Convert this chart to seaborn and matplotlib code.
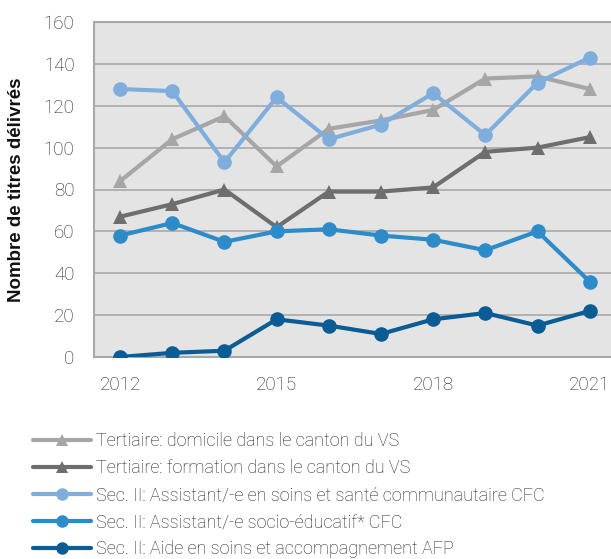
import matplotlib
matplotlib.use("Agg")
import matplotlib.pyplot as plt
import seaborn as sns
import pandas as pd

years = [2012, 2013, 2014, 2015, 2016, 2017, 2018, 2019, 2020, 2021]
series_names = [
    "Tertiaire: domicile dans le canton du VS",
    "Tertiaire: formation dans le canton du VS",
    "Sec. II: Assistant/-e en soins et santé communautaire CFC",
    "Sec. II: Assistant/-e socio-éducatif* CFC",
    "Sec. II: Aide en soins et accompagnement AFP",
]
tert_domicile = [84, 104, 115, 91, 109, 113, 118, 133, 134, 128]
tert_formation = [67, 73, 80, 62, 79, 79, 81, 98, 100, 105]
assc = [128, 127, 93, 124, 104, 111, 126, 106, 131, 143]
ase = [58, 64, 55, 60, 61, 58, 56, 51, 60, 36]
afp = [0, 2, 3, 18, 15, 11, 18, 21, 15, 22]
yticks = [0, 20, 40, 60, 80, 100, 120, 140, 160]
xticks = [2012, 2015, 2018, 2021]
ylabel = "Nombre de titres délivrés"

values = [tert_domicile, tert_formation, assc, ase, afp]
colors = ["#A6A6A6", "#6E6E6E", "#7FAEDD", "#2E8BCA", "#0B5B94"]
marker_shapes = ["^", "^", "o", "o", "o"]

rows = []
for name, vals in zip(series_names, values):
    for y, v in zip(years, vals):
        rows.append({"year": y, "value": v, "series": name})
df = pd.DataFrame(rows)

sns.set_theme(style="white")
plt.rcParams["font.family"] = ["Roboto", "DejaVu Sans"]

fs = 13.5
lfs = 13

fig = plt.figure(figsize=(6.11, 5.59), dpi=100)
ax = fig.add_axes([94 / 611, 1 - 357 / 559, 1 - 94 / 611 + 0.001, (357 - 22) / 559])
ax.set_facecolor("#E4E4E4")

sns.lineplot(
    data=df, x="year", y="value", hue="series", style="series",
    hue_order=series_names, style_order=series_names,
    palette=dict(zip(series_names, colors)),
    markers=dict(zip(series_names, marker_shapes)),
    dashes=False, linewidth=3.0, markersize=10.5, markeredgewidth=0,
    ax=ax, legend=True, zorder=3,
)

ax.set_xlim(2011.5, 2021.42)
ax.set_ylim(0, 160)
ax.set_yticks(yticks)
ax.set_xticks(xticks)
ax.set_xticklabels([str(x) for x in xticks])
ax.yaxis.grid(True, color="#A8A8A8", linewidth=1.2, zorder=0)
ax.xaxis.grid(False)
ax.set_axisbelow(True)
for side in ["left", "top", "bottom"]:
    ax.spines[side].set_visible(True)
    ax.spines[side].set_color("#A8A8A8")
    ax.spines[side].set_linewidth(1.5)
ax.spines["right"].set_visible(False)
ax.tick_params(axis="both", length=0, labelsize=fs, labelcolor="#222222")
ax.tick_params(axis="y", pad=14)
ax.tick_params(axis="x", pad=14)
for lab in ax.get_xticklabels() + ax.get_yticklabels():
    lab.set_fontweight("light")

ax.set_xlabel("")
ax.set_ylabel(ylabel, fontsize=13.5, fontweight="bold", family=["Liberation Sans", "DejaVu Sans"], color="#111111")
ax.yaxis.set_label_coords(-0.134, 0.5)

handles, labels = ax.get_legend_handles_labels()
ax.get_legend().remove()
leg = fig.legend(
    handles, labels, loc="upper left", bbox_to_anchor=(33 / 611, 1 - 432 / 559),
    frameon=False, borderpad=0, borderaxespad=0, handlelength=3.2,
    handletextpad=0.3, labelspacing=0.5, numpoints=1,
    prop={"weight": "light", "size": lfs},
)
for t in leg.get_texts():
    t.set_color("#222222")
for h in leg.legend_handles:
    h.set_markersize(9)

fig.savefig("out.png", dpi=100)
